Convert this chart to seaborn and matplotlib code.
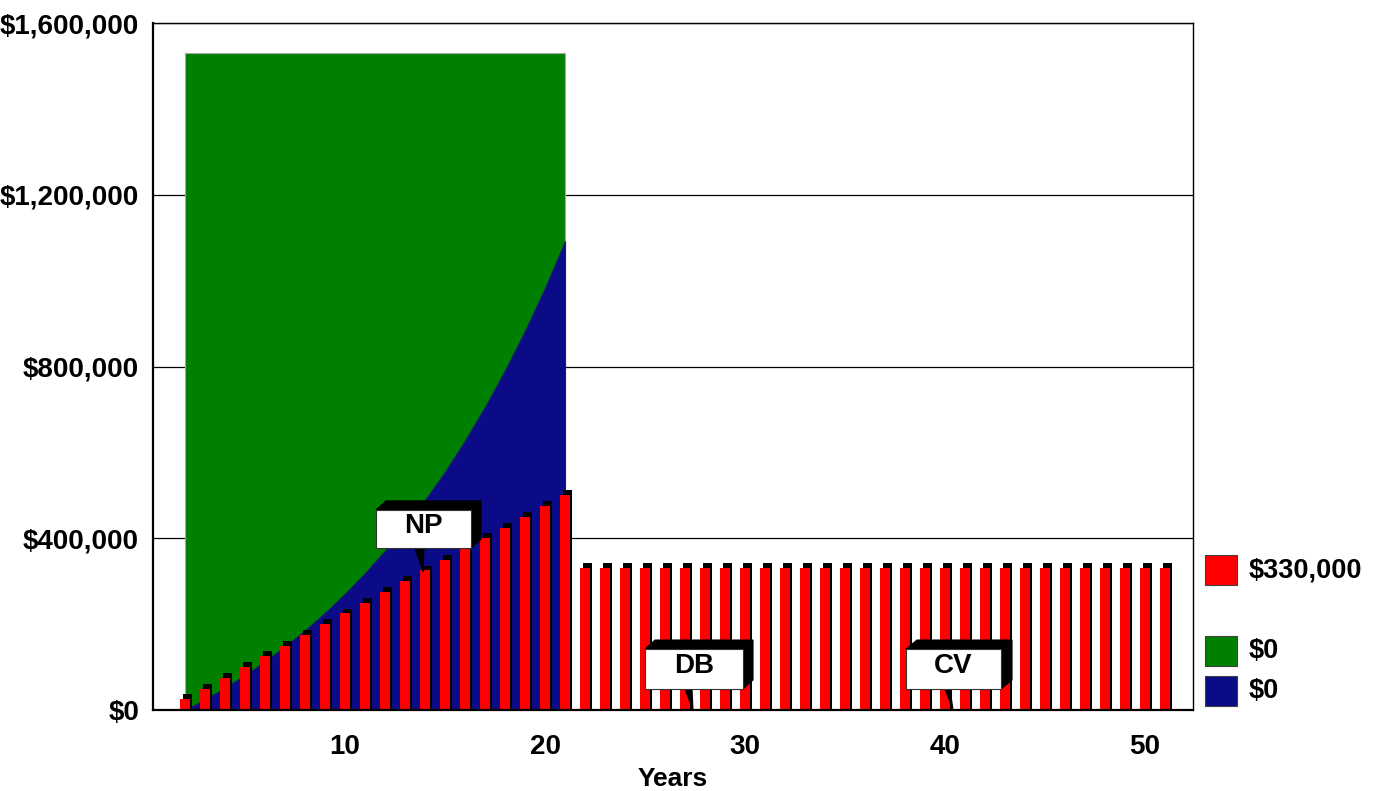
import matplotlib
matplotlib.use("Agg")
import matplotlib.pyplot as plt
import matplotlib.patheffects as pe
from matplotlib.patches import Rectangle, Polygon
import seaborn as sns
import pandas as pd

# data
years = list(range(2, 52))
premium = [25000, 50000, 75000, 100000, 125000, 150000, 175000, 200000, 225000, 250000,
           275000, 300000, 325000, 350000, 375000, 400000, 425000, 450000, 475000, 500000] + [330000] * 30
area_years = list(range(2, 22))
death_benefit = [1530000] * 20
cash_value = [0, 25000, 52000, 81500, 113500, 148000, 185500, 226500, 271000, 319000,
              371000, 427500, 489000, 555000, 627500, 706000, 791000, 883000, 983000, 1092000]
y_ticks = [0, 400000, 800000, 1200000, 1600000]
x_ticks = [10, 20, 30, 40, 50]
legend_labels = ["$330,000", "$0", "$0"]
legend_colors = ["#ff0000", "#008000", "#0b0b87"]

sns.set_style("white")
plt.rcParams["font.family"] = ["Liberation Sans", "DejaVu Sans"]
plt.rcParams["font.weight"] = "bold"
plt.rcParams["text.color"] = "black"
plt.rcParams["xtick.color"] = "black"
plt.rcParams["ytick.color"] = "black"
plt.rcParams["axes.labelcolor"] = "black"

fig = plt.figure(figsize=(13.77, 7.91), dpi=100)
ax = fig.add_axes([0.1111, 0.1024, 0.7553, 0.8685])

# areas
ax.fill_between(area_years, 0, death_benefit, color="#008000", edgecolor="#a8a8a8", linewidth=0.8, zorder=2)
ax.fill_between(area_years, 0, cash_value, color="#0b0b87", edgecolor="#1a1a70", linewidth=0.8, zorder=3)

# bars with a black 3D side and top
df = pd.DataFrame({"Year": years, "Premium": premium})
sns.barplot(data=df, x="Year", y="Premium", color="#ff0000", native_scale=True, width=0.46,
            errorbar=None, saturation=1, linewidth=0, ax=ax, zorder=4)
for bar in ax.patches:
    bar.set_path_effects([pe.SimplePatchShadow(offset=(1.8, 0), shadow_rgbFace="black", alpha=1),
                          pe.SimplePatchShadow(offset=(1.8, 3.5), shadow_rgbFace="black", alpha=1),
                          pe.Normal()])
    bar.set_zorder(4)

ax.set_xlim(0.4, 52.4)
ax.set_ylim(0, 1600000)
ax.set_yticks(y_ticks)
ax.set_yticklabels(["${:,.0f}".format(v) for v in y_ticks])
ax.set_xticks(x_ticks)
ax.set_xticklabels([str(v) for v in x_ticks])
ax.tick_params(axis="both", length=0, labelsize=20)
ax.tick_params(axis="y", pad=10)
ax.tick_params(axis="x", pad=17)
for lab in ax.get_xticklabels() + ax.get_yticklabels():
    lab.set_fontweight("bold")
ax.set_xlabel("Years", fontsize=19, fontweight="bold", labelpad=5)
ax.set_ylabel("")
ax.yaxis.grid(True, color="black", linewidth=0.9, zorder=0)
ax.set_axisbelow(True)
for side in ["left", "bottom"]:
    ax.spines[side].set_linewidth(1.6)
for side in ["top", "right"]:
    ax.spines[side].set_linewidth(1.0)
for s in ax.spines.values():
    s.set_color("black")
    s.set_zorder(6)

# 3D callouts
def callout(text, x0, x1, y0, y1, dx, dy, base, tip):
    shadow = Polygon([(x0, y1), (x0 + dx, y1 + dy), (x1 + dx, y1 + dy), (x1 + dx, y0 + dy), (x1, y0), (x1, y1)],
                     closed=True, facecolor="black", edgecolor="black", linewidth=0.8, zorder=7)
    ax.add_patch(shadow)
    ax.add_patch(Polygon([(base[0], y0), (base[1], y0), tip], closed=True, facecolor="black",
                         edgecolor="black", linewidth=0.8, zorder=7))
    ax.add_patch(Rectangle((x0, y0), x1 - x0, y1 - y0, facecolor="white", edgecolor="#333333",
                           linewidth=0.8, zorder=8))
    ax.text((x0 + x1) / 2, (y0 + y1) / 2 + 8000, text, ha="center", va="center", fontsize=20,
            fontweight="bold", zorder=9)

callout("NP", 11.55, 16.3, 377000, 466000, 0.5, 21000, (13.5, 13.95), (13.9, 322000))
callout("DB", 25.0, 29.9, 49000, 142000, 0.5, 21000, (27.0, 27.35), (27.4, 0))
callout("CV", 38.05, 42.8, 49000, 142000, 0.55, 21000, (40.0, 40.25), (40.4, 0))

# legend outside the plot
leg_y = [0.2604, 0.158, 0.1075]
for lab, col, yb in zip(legend_labels, legend_colors, leg_y):
    fig.add_artist(Rectangle((0.8751, yb), 0.02324, 0.0379, transform=fig.transFigure,
                             facecolor=col, edgecolor="#404040", linewidth=0.8))
    fig.text(0.907, yb + 0.0379 / 2, lab, ha="left", va="center", fontsize=19.5, fontweight="bold")

fig.savefig("out.png", dpi=100)
